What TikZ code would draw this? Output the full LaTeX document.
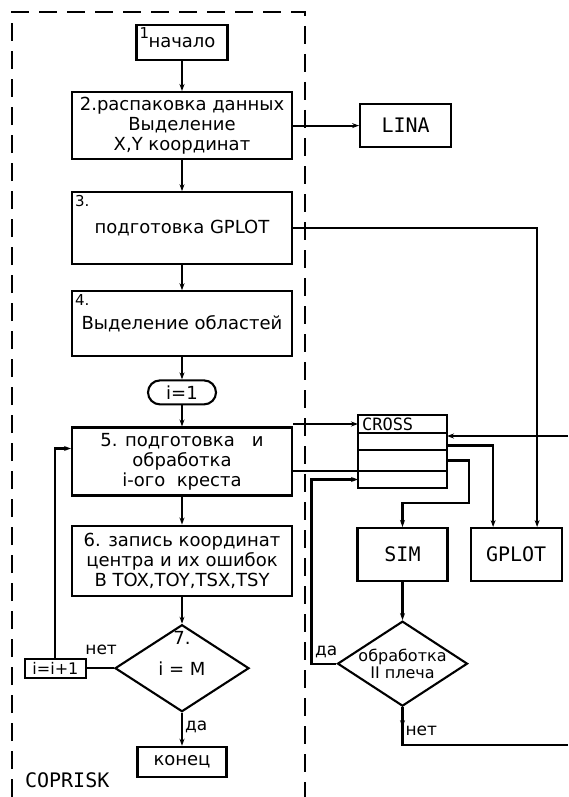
\documentclass[tikz,border=0pt]{standalone}
\usepackage{fontspec}
\setmainfont{DejaVu Sans}
\newfontfamily\monofont{DejaVu Sans Mono}
\usetikzlibrary{positioning, arrows.meta, shapes.geometric, calc}

\begin{document}
\begin{tikzpicture}[
    x=1pt, y=-1pt,
    line width=2.1pt,
    txt/.style={font=\fontsize{18}{20}\selectfont},
    block/.style={draw, rectangle, minimum width=220pt, align=center, inner sep=2pt, txt},
    numtag/.style={anchor=north west, inner sep=3pt, font=\fontsize{15}{15}\selectfont},
    counter/.style={draw, rectangle, rounded corners=12pt, minimum width=68pt, minimum height=24pt, inner sep=1pt, txt},
    decision/.style={draw, diamond, inner sep=0pt, align=center, txt},
    prog/.style={draw, rectangle, minimum width=91pt, minimum height=53pt, font=\monofont\fontsize{20}{20}\selectfont},
    row/.style={draw, rectangle, minimum width=89pt, outer sep=0pt, inner sep=0pt},
    lbl/.style={inner sep=2pt, font=\fontsize{17}{17}\selectfont},
    arrow/.style={-{Stealth[length=7pt, width=5pt]}},
    frame/.style={line width=1.4pt, dash pattern=on 18pt off 10pt}
]
\useasboundingbox (0,0) rectangle (568,797);

% main column of COPRISK
\node[block, minimum width=91pt, minimum height=35pt, label={[numtag]north west:1}] (start) at (182,42.5) {\raisebox{-4pt}{начало}};
\node[block, minimum height=67pt, below=30pt of start] (unpack) {2.распаковка данных\\Выделение\\X,Y координат};
\node[block, minimum height=72pt, below=31pt of unpack, label={[numtag]north west:3.}] (prep) {подготовка GPLOT};
\node[block, minimum height=65pt, below=25pt of prep, label={[numtag]north west:4.}] (areas) {Выделение областей};
\node[counter, below=22pt of areas] (initi) {i=1};
\node[block, minimum height=68pt, below=21pt of initi] (handle) {5. подготовка~~~и\\обработка\\i-ого~~креста};
\node[block, minimum height=70pt, below=28pt of handle] (record) {6. запись координат\\центра и их ошибок\\В TOX,TOY,TSX,TSY};
\node[decision, minimum width=134pt, minimum height=87pt, below=27pt of record,
      label={[anchor=north, inner sep=2pt, yshift=-5pt, txt]north:7.}] (check) {\raisebox{-6pt}{i = M}};
\node[block, minimum width=89pt, minimum height=30pt, below=33pt of check] (finish) {конец};
\node[draw, rectangle, minimum width=61pt, minimum height=19pt, inner sep=1pt,
      font=\fontsize{16}{16}\selectfont, left=27pt of check] (inc) {i=i+1};

% called programs
\node[prog, minimum height=43pt, right=66pt of unpack] (lina) {LINA};
\node[row, minimum height=18pt, anchor=center] (crosshead) at (402.5,424) {};
\node[anchor=west, inner sep=0pt, font=\monofont\fontsize{17}{17}\selectfont] (crosstext) at ([xshift=3pt]crosshead.west) {CROSS};
\node[row, minimum height=17pt, below=0pt of crosshead] (crossa) {};
\node[row, minimum height=21pt, below=0pt of crossa] (crossb) {};
\node[row, minimum height=17pt, below=0pt of crossb] (crossc) {};
\node[prog, minimum width=90pt, below=39pt of crossc] (sim) {SIM};
\node[prog, right=21pt of sim] (gplot) {GPLOT};
\node[decision, minimum width=130pt, minimum height=85pt, below=38pt of sim,
      label={[align=center, font=\fontsize{16}{17}\selectfont]center:обработка\\II плеча}] (arm) {};

\coordinate (crossin) at (568,436);
\coordinate (armout) at (568,745);

% labels
\node[lbl, anchor=south east] (no1) at ([xshift=6pt, yshift=10pt]check.west) {нет};
\node[lbl, anchor=west] (yes1) at ([yshift=-14pt]check.south) {да};
\node[lbl, anchor=south east] (yes2) at ([xshift=4pt, yshift=3pt]arm.west) {да};
\node[lbl, anchor=west] (no2) at ([yshift=-24pt]arm.south) {нет};
\node[anchor=west, inner sep=0pt, font=\monofont\fontsize{20}{20}\selectfont] (title) at (24,780) {COPRISK};

% frame
\draw[frame] (12,797) -- (12,12) -- (305,12) -- (305,797);

% connectors
\draw[arrow] (start) -- (unpack);
\draw[arrow] (unpack) -- (prep);
\draw[arrow] (prep) -- (areas);
\draw[arrow] (areas) -- (initi);
\draw[arrow] (initi) -- (handle);
\draw[arrow] (handle) -- (record);
\draw[arrow] (record) -- (check);
\draw[arrow] (check) -- (finish);
\draw (check.west) -- (inc.east);
\draw[arrow] (inc.north) |- ([yshift=13pt]handle.west);

\draw[arrow] (unpack.east |- lina.west) -- (lina.west);
\draw[arrow] (prep.east) -| ([xshift=21pt]gplot.north);
\draw[arrow] (handle.east |- crosshead.west) -- (crosshead.west);
\draw (crossb.south west) -- (crossb.south west -| handle.east);
\draw[arrow] (crossin) -- (crossin -| crossa.east);
\draw[arrow] ([yshift=-4pt]crossa.east) -| ([xshift=-23pt]gplot.north);
\draw[arrow] (crossb.east) -- ++(22,0) |- ([yshift=24pt]sim.north) -- (sim.north);
\draw[arrow] (sim) -- (arm);
\draw[arrow] (arm.west) -- ++(-25,0) |- (crossc.west);
\draw[arrow] (arm.south) -- ++(0,20);
\draw (arm.south) |- (armout);
\end{tikzpicture}
\end{document}
